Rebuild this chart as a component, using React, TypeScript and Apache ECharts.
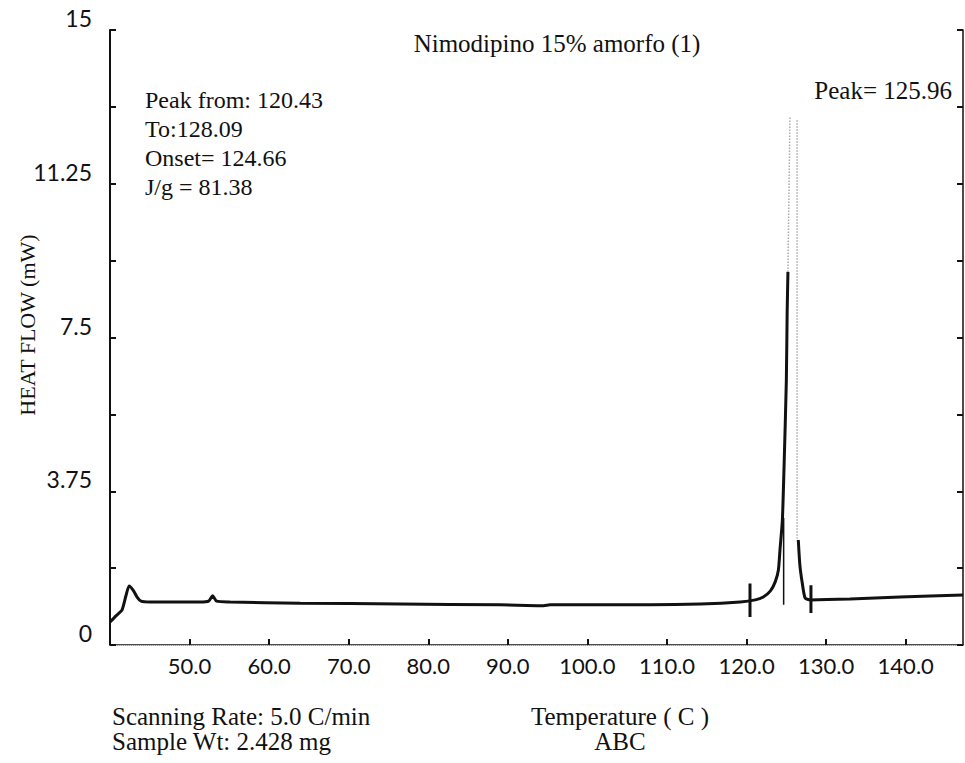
import React, { useEffect, useRef } from "react";
import * as echarts from "echarts";

// X tick values (Temperature, C)
const xTicks = [50, 60, 70, 80, 90, 100, 110, 120, 130, 140];
// Y tick values (Heat flow, mW)
const yLabelValues = [0, 3.75, 7.5, 11.25, 15];

// DSC trace: baseline + rising edge of the melting peak
const traceRise: [number, number][] = [
  [40.0, 0.56], [40.75, 0.71], [41.5, 0.85], [42.0, 1.2], [42.4, 1.44],
  [42.9, 1.34], [43.4, 1.17], [43.9, 1.07], [45.0, 1.05], [51.3, 1.05],
  [52.4, 1.07], [52.9, 1.2], [53.4, 1.07], [55.1, 1.05], [63.9, 1.02],
  [76.5, 1.0], [89.0, 0.98], [94.5, 0.96], [95.3, 0.98], [107.9, 0.98],
  [114.2, 1.0], [119.2, 1.05], [121.1, 1.1], [122.1, 1.17], [123.0, 1.32],
  [123.6, 1.54], [124.0, 1.83], [124.2, 2.32], [124.5, 3.05], [124.7, 4.27],
  [125.0, 6.46], [125.1, 8.1], [125.2, 9.1],
];
// Falling edge of the peak and baseline to the end
const traceFall: [number, number][] = [
  [126.5, 2.56], [126.7, 1.95], [127.0, 1.51], [127.35, 1.15], [128.0, 1.1],
  [133.0, 1.12], [139.3, 1.17], [147.2, 1.22],
];
// Faint (poorly printed) top of the peak
const faintUp: [number, number][] = [[125.2, 9.1], [125.45, 12.9]];
const faintDown: [number, number][] = [[126.35, 12.8], [126.35, 2.6]];

// Integration markers
const markerStart: [number, number][] = [[120.43, 0.68], [120.43, 1.5]];
const markerOnset: [number, number][] = [[124.66, 0.98], [124.66, 3.1]];
const markerEnd: [number, number][] = [[128.09, 0.78], [128.09, 1.46]];

const title = "Nimodipino 15% amorfo (1)";
const yName = "HEAT FLOW (mW)";
const infoLines = ["Peak from: 120.43", "To:128.09", "Onset= 124.66", "J/g = 81.38"];
const peakText = "Peak= 125.96";
const footLeft = ["Scanning Rate: 5.0 C/min", "Sample Wt: 2.428 mg"];
const footCenter = ["Temperature ( C )", "ABC"];

const SERIF = "Liberation Serif";
const SANS = "Lato";

export default function App() {
  const ref = useRef<HTMLDivElement>(null);
  useEffect(() => {
    if (!ref.current) return;
    const chart = echarts.init(ref.current, null, { renderer: "svg" });
    const lineSeries = (data: [number, number][], width: number, color = "#111", type = "solid") => ({
      type: "line",
      data,
      symbol: "none",
      silent: true,
      xAxisIndex: 0,
      yAxisIndex: 0,
      smooth: 0.2,
      lineStyle: { color, width, type },
    });
    chart.setOption({
      animation: false,
      backgroundColor: "#fff",
      grid: { left: 110, right: 2, top: 30, bottom: 118, containLabel: false },
      xAxis: [
        {
          type: "value",
          min: 40,
          max: 147.2,
          position: "bottom",
          axisLine: { show: true, lineStyle: { color: "#111", width: 1.5 } },
          axisTick: { show: true, inside: true, length: 6, customValues: xTicks, lineStyle: { color: "#111", width: 2 } },
          axisLabel: {
            customValues: xTicks,
            formatter: (v: number) => v.toFixed(1),
            fontFamily: SANS,
            fontSize: 22,
            color: "#111",
            margin: 9,
          },
          splitLine: { show: false },
        },
        {
          type: "value",
          min: 40,
          max: 147.2,
          position: "top",
          axisLine: { show: true, lineStyle: { color: "#ccc", width: 1, type: "dotted" } },
          axisTick: { show: false },
          axisLabel: { show: false },
          splitLine: { show: false },
        },
      ],
      yAxis: [
        {
          type: "value",
          min: 0,
          max: 15,
          interval: 1.875,
          position: "left",
          axisLine: { show: true, lineStyle: { color: "#111", width: 2 } },
          axisTick: { show: true, inside: true, length: 6, lineStyle: { color: "#111", width: 2 } },
          axisLabel: {
            customValues: yLabelValues,
            formatter: (v: number) => String(v),
            fontFamily: SANS,
            fontSize: 23,
            color: "#111",
            margin: 18,
            verticalAlign: "bottom",
            lineHeight: 24,
          },
          splitLine: { show: false },
        },
        {
          type: "value",
          min: 0,
          max: 15,
          interval: 1.875,
          position: "right",
          axisLine: { show: true, lineStyle: { color: "#111", width: 1.5 } },
          axisTick: { show: true, inside: true, length: 6, lineStyle: { color: "#111", width: 2 } },
          axisLabel: { show: false },
          splitLine: { show: false },
        },
      ],
      series: [
        lineSeries(traceRise, 3),
        lineSeries(traceFall, 3),
        { ...lineSeries(faintUp, 1.5, "#aaa", "dotted"), smooth: false },
        { ...lineSeries(faintDown, 1.5, "#aaa", "dotted"), smooth: false },
        { ...lineSeries(markerStart, 3), smooth: false },
        { ...lineSeries(markerOnset, 1.5), smooth: false },
        { ...lineSeries(markerEnd, 3), smooth: false },
      ],
      graphic: [
        {
          type: "text",
          x: 557,
          y: 43,
          silent: true,
          style: { text: title, fontFamily: SERIF, fontSize: 25, fill: "#111", align: "center", verticalAlign: "middle" },
        },
        {
          type: "text",
          x: 27,
          y: 325,
          rotation: Math.PI / 2,
          silent: true,
          style: { text: yName, fontFamily: SERIF, fontSize: 22, fill: "#111", align: "center", verticalAlign: "middle" },
        },
        {
          type: "text",
          x: 145,
          y: 85,
          silent: true,
          style: { text: infoLines.join("\n"), fontFamily: SERIF, fontSize: 24, lineHeight: 29, fill: "#111", align: "left", verticalAlign: "top" },
        },
        {
          type: "text",
          x: 952,
          y: 90,
          silent: true,
          style: { text: peakText, fontFamily: SERIF, fontSize: 25, fill: "#111", align: "right", verticalAlign: "middle" },
        },
        {
          type: "text",
          x: 112,
          y: 704,
          silent: true,
          style: { text: footLeft.join("\n"), fontFamily: SERIF, fontSize: 25, lineHeight: 25, fill: "#111", align: "left", verticalAlign: "top" },
        },
        {
          type: "text",
          x: 620,
          y: 704,
          silent: true,
          style: { text: footCenter.join("\n"), fontFamily: SERIF, fontSize: 25, lineHeight: 25, fill: "#111", align: "center", verticalAlign: "top" },
        },
      ],
    });
    return () => chart.dispose();
  }, []);
  return (
    <div
      ref={ref}
      style={{ position: "fixed", left: 0, top: 0, width: 965, height: 763, background: "#fff" }}
    />
  );
}
